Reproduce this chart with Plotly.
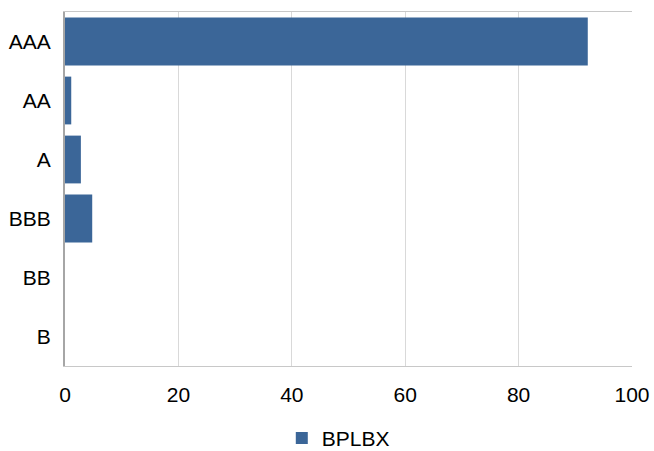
import plotly.graph_objects as go

# Credit quality breakdown (%)
ratings = ["AAA", "AA", "A", "BBB", "BB", "B"]
weights = [92.2, 1.1, 2.8, 4.8, 0.0, 0.0]
x_ticks = [0, 20, 40, 60, 80, 100]
series_name = "BPLBX"

fig = go.Figure(
    go.Bar(
        x=weights,
        y=ratings,
        orientation="h",
        name=series_name,
        marker=dict(color="#3b6698", line=dict(width=0)),
        showlegend=True,
    )
)

fig.update_layout(
    width=654,
    height=451,
    margin=dict(l=65, r=22, t=12, b=85, autoexpand=False),
    paper_bgcolor="white",
    plot_bgcolor="white",
    font=dict(family="Liberation Sans, Arial, sans-serif", size=21, color="#000000"),
    bargap=0.19,
    showlegend=True,
    legend=dict(
        orientation="h",
        x=0.482,
        xanchor="center",
        xref="paper",
        yref="container",
        y=0.028,
        yanchor="middle",
        font=dict(size=21),
    ),
    xaxis=dict(
        range=[0, 100],
        tickvals=x_ticks,
        showgrid=True,
        gridcolor="#d9d9d9",
        gridwidth=1,
        zeroline=False,
        showline=True,
        linecolor="#c8c8c8",
        linewidth=1,
        mirror=True,
        ticks="",
        ticklabelstandoff=10,
        automargin=False,
    ),
    yaxis=dict(
        categoryorder="array",
        categoryarray=ratings[::-1],
        showgrid=False,
        zeroline=False,
        showline=True,
        linecolor="#a6a6a6",
        linewidth=2,
        ticks="",
        ticklabelstandoff=8,
        automargin=False,
    ),
)

fig.write_html("out.html")
